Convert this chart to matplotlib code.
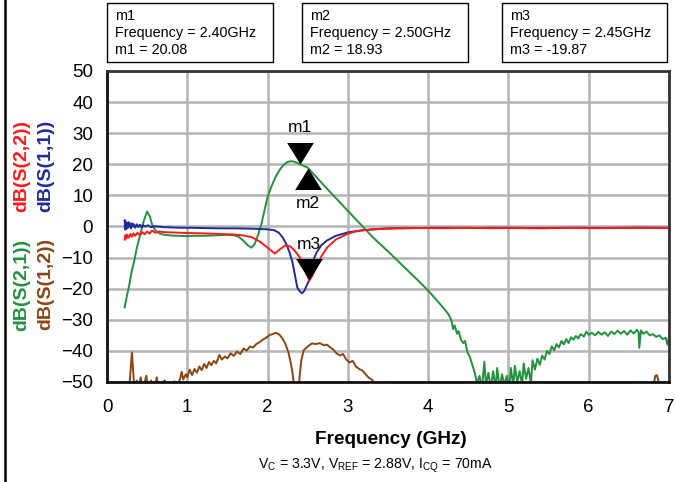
import matplotlib
matplotlib.use("Agg")
import matplotlib.pyplot as plt
from matplotlib.patches import Rectangle
from matplotlib.lines import Line2D
import numpy as np

plt.rcParams['font.family'] = ['Liberation Sans', 'DejaVu Sans']
plt.rcParams['mathtext.fontset'] = 'custom'
plt.rcParams['mathtext.rm'] = 'Liberation Sans'

# ---------------- data (frequency GHz, dB) ----------------
s21_points = [(0.22,-26),(0.25,-22),(0.28,-18.5),(0.31,-14),(0.34,-11),(0.37,-7),(0.40,-4),(0.43,-1),(0.46,2),(0.50,4.8),(0.53,3.5),(0.56,0.8),(0.60,-1.2),(0.65,-2.2),(0.70,-2.6),(0.80,-2.9),(0.90,-3.0),(1.00,-3.1),(1.10,-3.0),(1.20,-3.0),(1.30,-2.9),(1.40,-2.8),(1.50,-2.7),(1.58,-2.8),(1.64,-3.3),(1.70,-4.6),(1.75,-6.0),(1.80,-6.8),(1.84,-5.6),(1.88,-2.8),(1.92,0.5),(1.96,5),(2.00,9.5),(2.05,13),(2.10,16),(2.15,18.2),(2.20,19.8),(2.25,20.8),(2.30,21.0),(2.35,20.7),(2.40,20.08),(2.45,19.5),(2.50,18.93),(2.60,16.1),(2.70,13.3),(2.80,10.5),(2.90,7.8),(3.00,5.0),(3.10,2.3),(3.20,-0.4),(3.30,-3.2),(3.40,-5.6),(3.50,-8.0),(3.60,-10.5),(3.70,-13.0),(3.80,-15.5),(3.90,-18.0),(4.00,-20.6),(4.10,-23.5),(4.20,-26.5),(4.26,-28.5),(4.29,-30.2),(4.31,-33.0),(4.33,-31.8),(4.36,-34.5),(4.38,-33.6),(4.41,-36.5),(4.44,-37.5),(4.46,-36.8),(4.49,-40.5),(4.52,-42.0),(4.55,-44.5),(4.58,-47.0),(4.61,-50.5),(4.64,-48.0),(4.67,-52),(4.70,-43.5),(4.72,-51),(4.75,-47),(4.78,-52),(4.81,-46.5),(4.84,-52),(4.86,-45.5),(4.89,-52),(4.92,-47.5),(4.95,-51),(4.98,-48),(5.01,-52),(5.03,-45.5),(5.06,-51),(5.08,-44.8),(5.11,-50),(5.14,-46.5),(5.17,-51),(5.19,-44),(5.22,-49),(5.25,-45.5),(5.28,-50.5),(5.30,-43),(5.33,-46),(5.36,-42.5),(5.39,-44.5),(5.42,-41.5),(5.45,-42.8),(5.48,-40),(5.51,-41),(5.54,-38.5),(5.57,-39.8),(5.60,-37.8),(5.63,-38.9),(5.66,-36.8),(5.69,-37.9),(5.72,-36.2),(5.75,-37.5),(5.78,-35.6),(5.81,-36.4),(5.84,-35.2),(5.87,-36),(5.90,-34.6),(5.94,-35.4),(5.97,-33.8),(6.00,-34.8),(6.04,-34.2),(6.08,-35),(6.12,-33.9),(6.16,-34.8),(6.20,-34),(6.24,-35.2),(6.28,-33.8),(6.32,-34.6),(6.36,-33.5),(6.40,-34.5),(6.44,-33.6),(6.48,-34.8),(6.52,-33.4),(6.56,-34.4),(6.60,-33.2),(6.62,-34),(6.63,-39),(6.65,-33.4),(6.68,-34.5),(6.72,-33.8),(6.76,-35),(6.80,-34.6),(6.84,-35.5),(6.88,-35),(6.92,-36.2),(6.96,-35.8),(6.98,-38),(7.00,-35.5)]

s11_points = [(0.22,2.0),(0.225,-1.0),(0.23,1.6),(0.24,-0.8),(0.25,1.2),(0.26,-0.5),(0.27,1.4),(0.28,0.0),(0.29,0.9),(0.30,-0.6),(0.31,1.0),(0.32,0.1),(0.33,0.8),(0.35,-0.4),(0.37,0.7),(0.39,-0.2),(0.41,0.6),(0.43,-0.3),(0.45,0.4),(0.48,0.0),(0.51,0.4),(0.55,-0.2),(0.60,0.1),(0.70,-0.2),(0.80,-0.3),(0.90,-0.4),(1.00,-0.4),(1.20,-0.5),(1.40,-0.6),(1.60,-0.6),(1.80,-0.7),(2.00,-0.9),(2.08,-1.2),(2.14,-2.0),(2.19,-3.6),(2.24,-6.0),(2.28,-8.8),(2.31,-11.5),(2.34,-15.5),(2.37,-19.6),(2.40,-20.8),(2.43,-21.5),(2.46,-20.6),(2.49,-18.8),(2.52,-17.2),(2.55,-13.5),(2.58,-10.2),(2.61,-8.4),(2.67,-6.0),(2.74,-4.5),(2.85,-3.0),(3.00,-1.9),(3.15,-1.3),(3.30,-0.9),(3.50,-0.6),(3.80,-0.5),(4.2,-0.4),(4.6,-0.45),(5.0,-0.4),(5.4,-0.5),(5.8,-0.4),(6.2,-0.45),(6.6,-0.35),(7.0,-0.4)]

s22_points = [(0.22,-4.2),(0.23,-2.8),(0.24,-3.9),(0.25,-2.6),(0.27,-3.6),(0.29,-2.4),(0.31,-3.3),(0.33,-2.2),(0.35,-3.0),(0.38,-2.0),(0.41,-2.8),(0.44,-1.8),(0.47,-2.5),(0.50,-1.6),(0.53,-2.3),(0.56,-1.3),(0.60,-2.0),(0.65,-1.6),(0.70,-1.8),(0.80,-1.9),(0.90,-2.0),(1.00,-2.1),(1.20,-2.2),(1.40,-2.4),(1.60,-2.6),(1.70,-2.9),(1.80,-3.4),(1.90,-4.8),(2.00,-6.8),(2.09,-8.7),(2.15,-7.4),(2.22,-6.1),(2.28,-6.4),(2.34,-7.8),(2.40,-9.9),(2.45,-12.6),(2.49,-15.5),(2.52,-17.3),(2.55,-16.2),(2.58,-14.6),(2.61,-13.0),(2.67,-9.6),(2.74,-6.8),(2.85,-4.2),(3.00,-2.3),(3.10,-1.6),(3.20,-1.2),(3.40,-0.8),(3.60,-0.6),(3.9,-0.5),(4.2,-0.55),(4.5,-0.45),(4.8,-0.55),(5.1,-0.5),(5.4,-0.6),(5.7,-0.45),(6.0,-0.55),(6.3,-0.5),(6.6,-0.45),(7.0,-0.5)]

s12_points = [(0.22,-53),(0.28,-51),(0.295,-46),(0.31,-40.5),(0.325,-46),(0.34,-52),(0.37,-49.5),(0.39,-52),(0.42,-48.5),(0.44,-52),(0.47,-50),(0.49,-48),(0.51,-52),(0.55,-49.5),(0.57,-52),(0.60,-51),(0.62,-48.5),(0.64,-52),(0.68,-50.5),(0.72,-49.5),(0.75,-52),(0.80,-50.5),(0.84,-49.8),(0.88,-51),(0.91,-49),(0.93,-46.7),(0.95,-49.2),(0.98,-47.5),(1.00,-48.5),(1.03,-46),(1.06,-47.8),(1.09,-45.8),(1.12,-47),(1.15,-45),(1.18,-46.2),(1.21,-44.2),(1.24,-45.5),(1.27,-43.6),(1.30,-44.6),(1.33,-43.2),(1.36,-44),(1.40,-41.3),(1.43,-42.8),(1.47,-41.8),(1.50,-42.4),(1.54,-40.8),(1.58,-41.6),(1.62,-40.2),(1.66,-41),(1.70,-39.2),(1.74,-39.9),(1.78,-38.6),(1.82,-38.9),(1.86,-37.8),(1.90,-37.2),(1.94,-36.4),(1.98,-35.8),(2.02,-35.0),(2.06,-34.6),(2.10,-34.2),(2.14,-34.6),(2.18,-35.8),(2.22,-37.6),(2.26,-40.5),(2.29,-44),(2.31,-47),(2.33,-51),(2.35,-55),(2.38,-55),(2.40,-48),(2.42,-43),(2.45,-39.8),(2.49,-38.8),(2.55,-37.6),(2.60,-37.8),(2.65,-37.5),(2.70,-38.2),(2.74,-38.0),(2.78,-38.9),(2.82,-39.6),(2.86,-40.8),(2.90,-41.5),(2.94,-41.0),(2.98,-42.8),(3.02,-43.7),(3.06,-43.2),(3.10,-45.0),(3.14,-45.8),(3.18,-46.3),(3.22,-47.5),(3.26,-48.6),(3.30,-49.3),(3.34,-50.5),(3.40,-50.2),(3.44,-52),(3.55,-51.5),(3.58,-50.3),(3.62,-52),(4.0,-53),(5.0,-53),(6.0,-53),(6.3,-52),(6.32,-50.5),(6.35,-52.5),(6.80,-52),(6.83,-48),(6.85,-47.8),(6.87,-50),(6.90,-52.5),(7.0,-53)]

marker_names = ["m1", "m2", "m3"]
marker_freq_text = ["2.40GHz", "2.50GHz", "2.45GHz"]
marker_value_text = ["20.08", "18.93", "-19.87"]
# drawn marker tip positions (as seen on the chart)
marker_x = [2.40, 2.50, 2.52]
marker_y = [20.08, 18.93, -17.3]
marker_up = [False, True, False]   # True: triangle below point pointing up

x_ticks = [0, 1, 2, 3, 4, 5, 6, 7]
y_ticks = [50, 40, 30, 20, 10, 0, -10, -20, -30, -40, -50]

# ---------------- figure ----------------
W, H = 675, 482
fig = plt.figure(figsize=(W / 100, H / 100), dpi=100)
ax = fig.add_axes([107 / W, 1 - 382 / H, (669 - 107) / W, (382 - 71) / H])

c_green = '#23913c'
c_blue = '#1f2b96'
c_red = '#ff1a1a'
c_brown = '#8b4513'

def unzip(p):
    a = np.array(p, dtype=float)
    return a[:, 0], a[:, 1]

for pts, col in [(s12_points, c_brown), (s21_points, c_green),
                 (s11_points, c_blue), (s22_points, c_red)]:
    fx, fy = unzip(pts)
    ax.plot(fx, fy, color=col, lw=1.4, zorder=3, clip_on=True)

ax.set_xlim(0, 7)
ax.set_ylim(-50, 50)
ax.set_xticks(x_ticks)
ax.set_yticks(y_ticks)
ax.grid(True, color='#b4b4b4', lw=1.8, zorder=0)
ax.set_axisbelow(True)
ax.tick_params(length=0, labelsize=13.5, pad=10)
ax.tick_params(axis='x', pad=12)
for s in ax.spines.values():
    s.set_color('#333333')
    s.set_linewidth(2)
    s.set_zorder(5)
ax.spines['left'].set_color('#111111')
ax.spines['bottom'].set_color('#111111')

# markers (triangles with tip at the point)
down_tri = [(0, 0), (-0.62, 1.0), (0.62, 1.0), (0, 0)]
up_tri = [(0, 0), (-0.62, -1.0), (0.62, -1.0), (0, 0)]
for name, mx, my, up in zip(marker_names, marker_x, marker_y, marker_up):
    ax.plot([mx], [my], marker=(up_tri if up else down_tri), markersize=31,
            color='black', markeredgewidth=0, zorder=6, clip_on=False)
    ax.annotate(name, (mx, my), xytext=(0, -26 if up else 26),
                textcoords='offset points', ha='center', va='center',
                fontsize=12.5, zorder=7)

# marker info boxes
box_x = [(107, 273), (302, 468), (502, 667)]
for (x0, x1), name, ft, vt in zip(box_x, marker_names, marker_freq_text, marker_value_text):
    fig.patches.append(Rectangle((x0 / W, 1 - 62 / H), (x1 - x0) / W, 59 / H,
                                 transform=fig.transFigure, fill=False,
                                 edgecolor='black', lw=1.0))
    fig.text((x0 + 8) / W, 1 - 33 / H,
             f"{name}\nFrequency = {ft}\n{name} = {vt}",
             ha='left', va='center', fontsize=10.4, linespacing=1.28)

# y labels
fig.text(22 / W, 1 - 166 / H, "dB(S(2,2))", rotation=90, color=c_red,
         fontsize=14, fontweight='bold', ha='center', va='center')
fig.text(46 / W, 1 - 166 / H, "dB(S(1,1))", rotation=90, color=c_blue,
         fontsize=14, fontweight='bold', ha='center', va='center')
fig.text(22 / W, 1 - 285 / H, "dB(S(2,1))", rotation=90, color=c_green,
         fontsize=14, fontweight='bold', ha='center', va='center')
fig.text(46 / W, 1 - 284 / H, "dB(S(1,2))", rotation=90, color=c_brown,
         fontsize=14, fontweight='bold', ha='center', va='center')

# x labels
fig.text(391 / W, 1 - 440 / H, "Frequency (GHz)", fontsize=13.7,
         fontweight='bold', ha='center', va='center')
fig.text(375 / W, 1 - 466 / H,
         r"V$_\mathregular{C}$ = 3.3V, V$_\mathregular{REF}$ = 2.88V, I$_\mathregular{CQ}$ = 70mA",
         fontsize=10.2, ha='center', va='center')

# left frame line
fig.add_artist(Line2D([5 / W, 5 / W], [0, 1], transform=fig.transFigure,
                      color='black', lw=1.8))

fig.savefig("out.png", dpi=100)
